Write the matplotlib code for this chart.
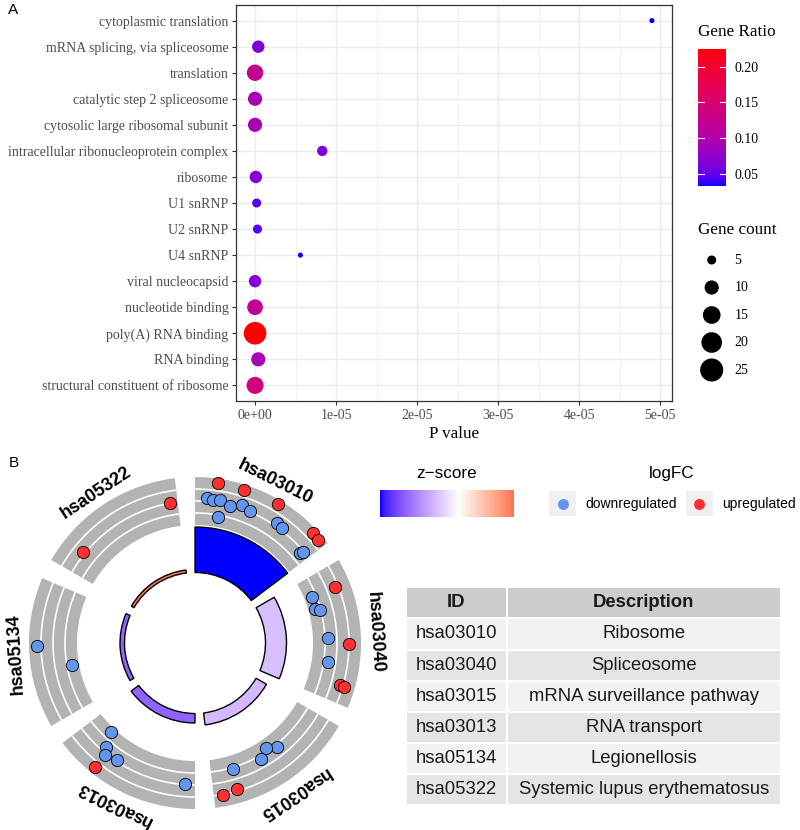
import numpy as np
import matplotlib
matplotlib.use('Agg')
import matplotlib.pyplot as plt
from matplotlib.patches import Wedge, Arc, Rectangle
from matplotlib.colors import to_rgb, ListedColormap

# ---------- panel A data (GO enrichment bubble plot) ----------
terms = ['cytoplasmic translation', 'mRNA splicing, via spliceosome', 'translation',
         'catalytic step 2 spliceosome', 'cytosolic large ribosomal subunit',
         'intracellular ribonucleoprotein complex', 'ribosome', 'U1 snRNP', 'U2 snRNP',
         'U4 snRNP', 'viral nucleocapsid', 'nucleotide binding', 'poly(A) RNA binding',
         'RNA binding', 'structural constituent of ribosome']
pvals = [4.90e-5, 0.04e-5, 1e-9, 1e-9, 1e-9, 0.83e-5, 0.01e-5, 0.02e-5, 0.03e-5,
         0.56e-5, 1e-9, 1e-9, 1e-9, 0.04e-5, 1e-9]
gene_ratio = [0.034, 0.064, 0.124, 0.094, 0.094, 0.062, 0.068, 0.048, 0.048,
              0.035, 0.066, 0.118, 0.224, 0.094, 0.140]
gene_count = [3, 8, 13, 10, 10, 6, 8, 5, 5, 3, 8, 12, 24, 10, 14]
xticks = [0, 1e-5, 2e-5, 3e-5, 4e-5, 5e-5]
xticklabels = ['0e+00', '1e-05', '2e-05', '3e-05', '4e-05', '5e-05']
ratio_ticks = [0.05, 0.10, 0.15, 0.20]
count_keys = [5, 10, 15, 20, 25]

# ---------- panel B data (GOCircle of KEGG pathways) ----------
kegg_ids = ['hsa03010', 'hsa03040', 'hsa03015', 'hsa03013', 'hsa05134', 'hsa05322']
kegg_desc = ['Ribosome', 'Spliceosome', 'mRNA surveillance pathway', 'RNA transport',
             'Legionellosis', 'Systemic lupus erythematosus']
zscore = [-2.0, -0.55, -0.6, -1.35, -1.35, 1.41]
bar_height = [45.5, 21, 12, 9.5, 4.5, 3]      # inner ring bar height
# genes in the outer ring: term index, angle (deg), ring position, upregulated?
gene_term = [0]*16 + [1]*9 + [2]*6 + [3]*6 + [4]*2 + [5]*2
gene_angle = [81.7, 72.1, 59.1, 43.0, 39.9,
              85.4, 82.7, 80.1, 75.7, 71.3, 67.4, 79.5, 55.7, 52.9, 40.5, 39.9,
              21.9, -0.2, -16.2, -16.5, 21.5, 15.6, 14.6, 2.2, -8.3,
              -51.7, -56.0, -60.5, -73.1, -73.9, -79.5,
              -133.5, -130.5, -128.8, -123.8, -94.1, -129.0,
              181.1, 190.1,
              100.1, 141.1]
gene_ring = [161.4, 160.7, 162.0, 160.9, 160.7,
             145.2, 144.2, 145.2, 141.4, 145.7, 143.3, 127.8, 144.9, 143.8, 138.1, 141.3,
             150.9, 154.3, 151.0, 155.0, 125.4, 124.6, 129.2, 133.1, 134.1,
             132.9, 127.0, 133.6, 132.0, 152.3, 154.6,
             122.4, 137.1, 143.7, 140.8, 141.4, 159.1,
             158.3, 125.2,
             141.9, 144.4]
gene_up = [1]*5 + [0]*11 + [1]*4 + [0]*5 + [0]*4 + [1]*2 + [0]*5 + [1] + [0]*2 + [1]*2


# ---------- colour helpers (ggplot interpolates gradients in CIELAB) ----------
M = np.array([[0.4124564, 0.3575761, 0.1804375],
              [0.2126729, 0.7151522, 0.0721750],
              [0.0193339, 0.1191920, 0.9503041]])
WP = np.array([0.95047, 1.0, 1.08883])

def to_lab(c):
    rgb = np.array(to_rgb(c))
    lin = np.where(rgb <= 0.04045, rgb / 12.92, ((rgb + 0.055) / 1.055) ** 2.4)
    t = (M @ lin) / WP
    f = np.where(t > (6/29)**3, np.cbrt(t), t / (3*(6/29)**2) + 4/29)
    return np.array([116*f[1] - 16, 500*(f[0] - f[1]), 200*(f[1] - f[2])])

def from_lab(lab):
    fy = (lab[..., 0] + 16) / 116
    f = np.stack([fy + lab[..., 1]/500, fy, fy - lab[..., 2]/200], -1)
    t = np.where(f > 6/29, f**3, 3*(6/29)**2*(f - 4/29))
    lin = np.clip((t * WP) @ np.linalg.inv(M).T, 0, 1)
    return np.clip(np.where(lin <= 0.0031308, 12.92*lin, 1.055*lin**(1/2.4) - 0.055), 0, 1)

def lab_ramp(c0, c1, t):
    t = np.asarray(t, float)[..., None]
    return from_lab(to_lab(c0)*(1 - t) + to_lab(c1)*t)

ratio_cmap = ListedColormap(lab_ramp('#0000FF', '#FF0000', np.linspace(0, 1, 256)))
rmin, rmax = 0.034, 0.224

def zcol(z):
    z = np.asarray(z, float)
    out = np.where(z[..., None] < 0, lab_ramp('white', 'blue', np.clip(-z/2, 0, 1)),
                   lab_ramp('white', 'red', np.clip(z/2, 0, 1)))
    return out

def dot_px(c):
    return 2 + 22*np.sqrt((np.asarray(c, float) - 2.5)/24.5)

def dot_s(c):
    return (dot_px(c)*0.72)**2

SERIF = 'Liberation Serif'
SANS = 'Liberation Sans'

fig = plt.figure(figsize=(8, 8.3), dpi=100)
W, H = 800, 830

def px_axes(x0, y0, x1, y1, **kw):
    return fig.add_axes([x0/W, 1 - y1/H, (x1 - x0)/W, (y1 - y0)/H], **kw)

ov = px_axes(0, 0, 800, 830)
ov.set_xlim(0, W); ov.set_ylim(H, 0); ov.axis('off')

# ---------- panel A ----------
ax = px_axes(236, 5, 672, 401)
ypos = np.arange(len(terms))[::-1]
ax.scatter(pvals, ypos, s=dot_s(gene_count), c=gene_ratio, cmap=ratio_cmap,
           vmin=rmin, vmax=rmax, linewidths=0, zorder=3)
ax.set_xlim(-0.235e-5, 5.148e-5)
ax.set_ylim(-0.6, 14.6)
ax.set_yticks(ypos)
ax.set_yticklabels(terms, family=SERIF, fontsize=10, color='#4D4D4D')
ax.set_xticks(xticks)
ax.set_xticklabels(xticklabels, family=SERIF, fontsize=10, color='#4D4D4D')
ax.set_xticks(np.arange(0.5e-5, 5.2e-5, 1e-5), minor=True)
ax.tick_params(which='major', length=3, color='#333333', width=0.8, pad=2.5)
ax.tick_params(which='minor', length=0)
ax.grid(which='major', color='#EBEBEB', lw=1.0)
ax.grid(which='minor', axis='x', color='#EBEBEB', lw=0.5)
ax.set_axisbelow(True)
for sp in ax.spines.values():
    sp.set_color('#333333'); sp.set_linewidth(0.9)
ax.set_xlabel('P value', family=SERIF, fontsize=12.3, labelpad=3)

# Gene Ratio colourbar
ov.text(698.3, 32.3, 'Gene Ratio', family=SERIF, fontsize=12.3, va='center', ha='left')
cax = px_axes(698.3, 49.3, 725.7, 185.7)
cax.imshow(np.linspace(rmin, rmax, 256)[:, None], aspect='auto', cmap=ratio_cmap,
           origin='lower', extent=[0, 1, rmin, rmax], vmin=rmin, vmax=rmax)
for t in ratio_ticks:
    cax.plot([0, 0.2], [t, t], color='white', lw=0.8)
    cax.plot([0.8, 1], [t, t], color='white', lw=0.8)
cax.set_xlim(0, 1); cax.set_ylim(rmin, rmax)
cax.set_xticks([])
cax.yaxis.tick_right()
cax.set_yticks(ratio_ticks)
cax.set_yticklabels(['%.2f' % t for t in ratio_ticks], family=SERIF, fontsize=10)
cax.tick_params(length=0, pad=6)
for sp in cax.spines.values():
    sp.set_visible(False)

# Gene count size legend
ov.text(698.3, 230, 'Gene count', family=SERIF, fontsize=12.3, va='center', ha='left')
key_y = 260 + 27.5*np.arange(len(count_keys))
ov.scatter([711.7]*len(count_keys), key_y, s=dot_s(count_keys), color='black', linewidths=0)
for c, y in zip(count_keys, key_y):
    ov.text(734.3, y, str(c), family=SERIF, fontsize=10, va='center', ha='left')

ov.text(8.3, 10, 'A', family=SANS, fontsize=11, va='center', ha='left')
ov.text(8.3, 463, 'B', family=SANS, fontsize=11, va='center', ha='left')

# ---------- panel B: circle ----------
cx = px_axes(0, 440, 380, 830)
cx.set_xlim(-195, 185); cx.set_ylim(-187, 203)
cx.axis('off')
r_in, r_out = 118, 166
ring_lines = [130, 142, 154]
base = 70.5
seg_cols = zcol(zscore)
for i, tid in enumerate(kegg_ids):
    start = 90 - 60*i
    end = start - 53
    cx.add_patch(Wedge((0, 0), r_out, end, start, width=r_out - r_in,
                       facecolor='#B3B3B3', edgecolor='none'))
    for r in ring_lines:
        cx.add_patch(Arc((0, 0), 2*r, 2*r, theta1=end, theta2=start, color='white', lw=1.2))
    cx.add_patch(Wedge((0, 0), base + bar_height[i], end, start, width=bar_height[i],
                       facecolor=seg_cols[i], edgecolor='black', lw=1.0))
    mid = (start + end)/2
    cx.text(180*np.cos(np.radians(mid)), 180*np.sin(np.radians(mid)), tid,
            rotation=mid - 90, rotation_mode='anchor', ha='center', va='center',
            family=SANS, fontweight='bold', fontsize=13)

ga = np.radians(gene_angle)
gr = np.array(gene_ring)
up = np.array(gene_up) == 1
up_col, down_col = '#FF3030', '#6495ED'
cx.scatter((gr*np.cos(ga))[~up], (gr*np.sin(ga))[~up], s=78, color=down_col,
           edgecolors='black', linewidths=0.6, zorder=4)
cx.scatter((gr*np.cos(ga))[up], (gr*np.sin(ga))[up], s=78, color=up_col,
           edgecolors='black', linewidths=0.6, zorder=4)

# z-score legend
ov.text(446.7, 473, 'z\u2212score', family=SANS, fontsize=12.3, ha='center', va='center')
zax = px_axes(380, 490, 514, 516.7)
zgrad = zcol(np.linspace(-2.0, max(zscore), 200))
zax.imshow(zgrad[None, :, :], aspect='auto', extent=[0, 1, 0, 1])
zax.axis('off')

# logFC legend
ov.text(671.7, 473, 'logFC', family=SANS, fontsize=12.3, ha='center', va='center')
for kx, col, lab in [(549.3, down_col, 'downregulated'), (686, up_col, 'upregulated')]:
    ov.add_patch(Rectangle((kx, 490.7), 26.7, 25.3, facecolor='#F0F0F0', edgecolor='none'))
    ov.scatter([kx + 13.4], [503.5], s=62, color=col, linewidths=0)
    ov.text(kx + 35.7, 503.5, lab, family=SANS, fontsize=10, ha='left', va='center')

# table of pathways
col_x = [(407.3, 505.7), (507.7, 780)]
row_h, cell_h, top = 31.1, 29.1, 588.3
rows = [('ID', 'Description')] + list(zip(kegg_ids, kegg_desc))
for k, row in enumerate(rows):
    y0 = top + k*row_h
    fill = '#CCCCCC' if k == 0 else ('#F2F2F2' if k % 2 == 1 else '#E5E5E5')
    for (x0, x1), txt in zip(col_x, row):
        ov.add_patch(Rectangle((x0, y0), x1 - x0, cell_h, facecolor=fill, edgecolor='none'))
        ov.text((x0 + x1)/2, y0 + cell_h/2, txt, family=SANS, fontsize=13.3,
                fontweight='bold' if k == 0 else 'normal', ha='center', va='center',
                color='#1A1A1A')

fig.savefig('out.png', dpi=100)
